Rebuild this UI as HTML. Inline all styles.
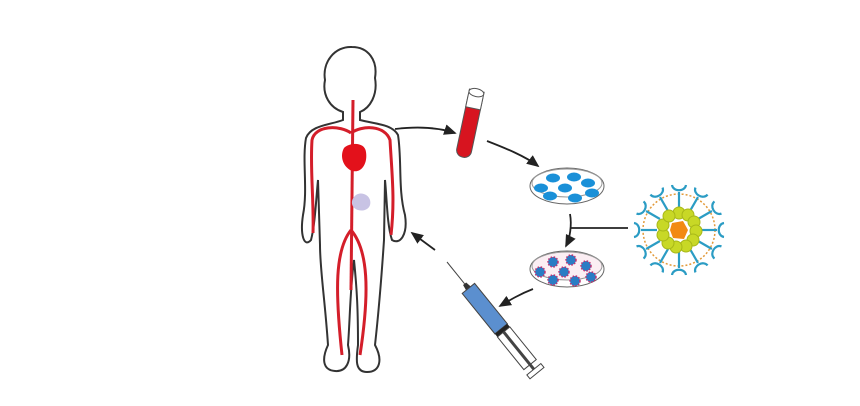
<!DOCTYPE html><html><head><style>body{margin:0;background:#fff}svg{display:block}</style></head><body>
<svg width="860" height="406" viewBox="0 0 860 406" xmlns="http://www.w3.org/2000/svg">
<defs><marker id="a" markerWidth="8" markerHeight="8" refX="6" refY="4" orient="auto"><path d="M0,1 L7,4 L0,7 Z" fill="#222"/></marker></defs>
<path d="M343,112 C330,108 322,95 325,80 C322,62 335,46 352,47 C368,47 378,60 375,78 C378,95 370,108 360,112 L360,120 C375,124 392,124 398,135 C402,160 398,190 405,215 C408,235 400,245 392,240 C387,225 387,200 385,180 L384,240 C382,270 380,300 375,345 C383,360 380,372 367,372 C355,372 356,360 358,345 C358,310 357,290 354,260 C350,290 350,320 348,345 C352,362 346,372 335,371 C322,370 322,358 328,345 C325,300 320,270 320,245 L318,180 C316,200 315,225 311,240 C304,248 300,235 303,215 C308,190 302,160 306,138 C311,125 330,125 343,120 Z" fill="none" stroke="#333" stroke-width="2"/>
<g fill="none" stroke="#d41e2a" stroke-width="3">
<path d="M353,100 L351,290"/>
<path d="M351,133 C340,125 315,125 312,140 C310,170 314,200 313,233"/>
<path d="M351,133 C362,125 385,125 390,140 C392,175 395,200 391,235"/>
<path d="M351,230 C335,250 335,290 342,355"/>
<path d="M351,230 C368,250 370,290 360,355"/>
</g>
<path d="M344,148 C350,142 365,142 366,152 C368,165 360,175 350,170 C342,165 340,155 344,148 Z" fill="#e3111b"/>
<path d="M354,197 C358,191 368,193 370,200 C372,208 365,212 358,210 C352,208 350,202 354,197 Z" fill="#c8c3e4"/>
<g transform="rotate(12 470 125)"><rect x="462" y="90" width="15" height="68" rx="7" fill="#d7141f" stroke="#555" stroke-width="1"/><rect x="462" y="90" width="15" height="18" fill="#fff" stroke="#555" stroke-width="1"/><ellipse cx="469.5" cy="92" rx="7.5" ry="4" fill="#fff" stroke="#555"/></g>
<g fill="none" stroke="#222" stroke-width="1.8" marker-end="url(#a)">
<path d="M395,129 C420,126 440,128 455,133"/>
<path d="M487,141 C505,148 525,156 538,166"/>
<path d="M570,214 C572,225 570,238 566,246"/>
<path d="M533,289 C520,294 510,300 500,306"/>
<path d="M435,250 L412,233"/>
</g>
<line x1="570" y1="228" x2="628" y2="228" stroke="#222" stroke-width="1.8"/>
<ellipse cx="567" cy="186" rx="37" ry="18" fill="#fff" stroke="#666"/>
<ellipse cx="567" cy="183" rx="35" ry="14" fill="#fff" stroke="#999"/>
<g fill="#1a90d8"><ellipse cx="553" cy="178" rx="7" ry="4.5"/><ellipse cx="574" cy="177" rx="7" ry="4.5"/><ellipse cx="588" cy="183" rx="7" ry="4.5"/><ellipse cx="541" cy="188" rx="7" ry="4.5"/><ellipse cx="565" cy="188" rx="7" ry="4.5"/><ellipse cx="550" cy="196" rx="7" ry="4.5"/><ellipse cx="575" cy="198" rx="7" ry="4.5"/><ellipse cx="592" cy="193" rx="7" ry="4.5"/></g>
<ellipse cx="567" cy="269" rx="37" ry="18" fill="#fff" stroke="#666"/>
<ellipse cx="567" cy="266" rx="35" ry="14" fill="#fbeef3" stroke="#999"/>
<g fill="#2a7cc4" stroke="#c03070" stroke-width="1.5" stroke-dasharray="1.5 1.5"><circle cx="553" cy="262" r="5"/><circle cx="571" cy="260" r="5"/><circle cx="586" cy="266" r="5"/><circle cx="540" cy="272" r="5"/><circle cx="564" cy="272" r="5"/><circle cx="553" cy="280" r="5"/><circle cx="575" cy="281" r="5"/><circle cx="591" cy="277" r="5"/></g>
<g transform="translate(679,230)">
<circle r="36" fill="none" stroke="#e29a3a" stroke-width="1.5" stroke-dasharray="2 2"/>
<g stroke="#2b9cc4" stroke-width="2.2" fill="none">
<g id="s"><line x1="0" y1="-22" x2="0" y2="-38"/><path d="M-7,-45 C-6,-38 6,-38 7,-45"/></g>
<use href="#s" transform="rotate(30)"/><use href="#s" transform="rotate(60)"/><use href="#s" transform="rotate(90)"/><use href="#s" transform="rotate(120)"/><use href="#s" transform="rotate(150)"/><use href="#s" transform="rotate(180)"/><use href="#s" transform="rotate(210)"/><use href="#s" transform="rotate(240)"/><use href="#s" transform="rotate(270)"/><use href="#s" transform="rotate(300)"/><use href="#s" transform="rotate(330)"/>
</g>
<g fill="#c8d826" stroke="#a8b818"><circle cx="0" cy="-17" r="6"/><circle cx="9" cy="-15" r="6"/><circle cx="15" cy="-8" r="6"/><circle cx="17" cy="1" r="6"/><circle cx="14" cy="10" r="6"/><circle cx="7" cy="16" r="6"/><circle cx="-3" cy="17" r="6"/><circle cx="-11" cy="13" r="6"/><circle cx="-16" cy="5" r="6"/><circle cx="-16" cy="-5" r="6"/><circle cx="-10" cy="-14" r="6"/></g>
<path d="M-7,-7 L4,-9 L9,0 L5,9 L-6,8 L-9,0 Z" fill="#f28a12"/>
</g>
<g transform="translate(447,262) rotate(51)">
<line x1="0" y1="0" x2="28" y2="0" stroke="#444" stroke-width="1"/>
<path d="M28,-2 L34,-3 L34,3 L28,2 Z" fill="#333"/>
<rect x="34" y="-8" width="52" height="16" fill="#5b8fcf" stroke="#444"/>
<rect x="86" y="-8" width="4" height="16" fill="#222"/>
<rect x="90" y="-8" width="42" height="16" fill="#fff" stroke="#444"/>
<line x1="90" y1="0" x2="140" y2="0" stroke="#444" stroke-width="3"/>
<rect x="138" y="-9" width="5" height="18" fill="#fff" stroke="#444"/>
</g>
</svg>
</body></html>
